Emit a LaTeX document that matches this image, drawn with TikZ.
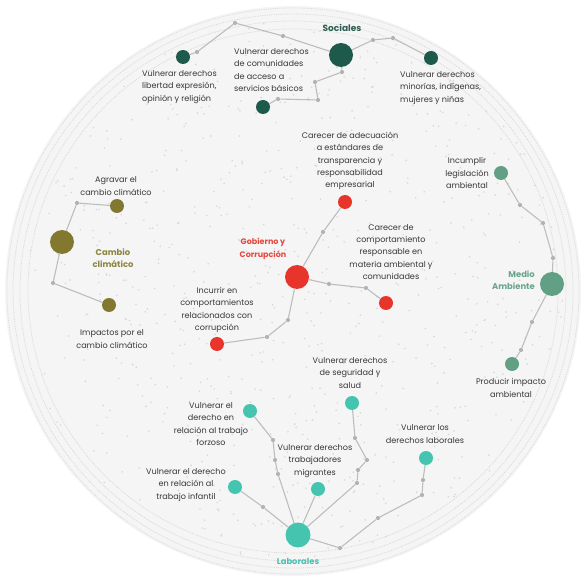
\documentclass[tikz,border=0pt]{standalone}
\usepackage{fontspec}
\setmainfont{Poppins}
\usetikzlibrary{calc}
\definecolor{socc}{HTML}{1D5A4B}
\definecolor{socl}{HTML}{2D5E52}
\definecolor{climc}{HTML}{83782F}
\definecolor{climl}{HTML}{8C8440}
\definecolor{gobc}{HTML}{E8352B}
\definecolor{gobl}{HTML}{E4473D}
\definecolor{ambc}{HTML}{62A085}
\definecolor{ambl}{HTML}{6AA58C}
\definecolor{labc}{HTML}{45C4B0}
\definecolor{labl}{HTML}{4BBFB0}
\definecolor{linec}{HTML}{BDBDBD}
\definecolor{dotc}{HTML}{B3B3B3}
\definecolor{txtc}{HTML}{383838}
\definecolor{bgc}{HTML}{F5F5F5}
\definecolor{ringc}{HTML}{D8D8D8}
\tikzset{
  hub/.style={circle, minimum size=24pt, inner sep=0pt, fill=#1},
  leaf/.style={circle, minimum size=14pt, inner sep=0pt, fill=#1},
  wp/.style={circle, minimum size=4.2pt, inner sep=0pt, fill=dotc},
  link/.style={draw=linec, line width=1.1pt},
  lbl/.style={font=\fontsize{8.1}{12.3}\selectfont, text=txtc, align=center, inner sep=0pt},
  lbll/.style={lbl, align=left},
  head/.style={font=\fontsize{8.4}{12.5}\selectfont\bfseries, text=#1, align=center, inner sep=0pt},
}
\begin{document}
\begin{tikzpicture}[x=1pt,y=-1pt]
\useasboundingbox (0,0) rectangle (584,577);

% backdrop sphere
\fill[bgc] (293,291) ellipse [x radius=288, y radius=285];
\foreach \r in {286,280,273,265}
  \draw[ringc, densely dotted, line width=0.8pt] (293,291) ellipse [x radius=\r, y radius=\r-3];
\pgfmathsetseed{11}
\foreach \i in {1,...,700} {
  \pgfmathsetmacro{\ang}{rnd*360}
  \pgfmathsetmacro{\rad}{sqrt(rnd)*270}
  \fill[ringc] ($(293,291)+(\ang:\rad)$) circle (0.9pt);
}

% ---------- Sociales ----------
\node[hub=socc] (sh) at (341,55) {};
\node[leaf=socc] (s1) at (183,57) {};
\node[leaf=socc] (s2) at (431,58) {};
\node[leaf=socc] (s3) at (263,107) {};
\node[wp] (sw1) at (197,52) {};
\node[wp] (sw2) at (235,23) {};
\node[wp] (sw3) at (283,36) {};
\node[wp] (sw4) at (373,40) {};
\node[wp] (sw5) at (393,38) {};
\node[wp] (sw6) at (342,72) {};
\node[wp] (sw7) at (315,82) {};
\node[wp] (sw8) at (318,100) {};
\node[wp] (sw9) at (278,99) {};
\draw[link] (s1) -- (sw1) -- (sw2) -- (sw3) -- (sh);
\draw[link] (sh) -- (sw4) -- (sw5) -- (s2);
\draw[link] (sh) -- (sw6) -- (sw7) -- (sw8) -- (sw9) -- (s3);
\node[head=socl, font=\fontsize{9}{12.5}\selectfont\bfseries] (shl) at (342,28) {Sociales};
\node[lbll, anchor=west] (s1t) at (142,87) {Vulnerar derechos\\libertad expresión,\\opinión y religión};
\node[lbll, anchor=west] (s2t) at (400,88) {Vulnerar derechos\\minorías, indígenas,\\mujeres y niñas};
\node[lbll, anchor=west] (s3t) at (234,70) {Vulnerar derechos\\de comunidades\\de acceso a\\servicios básicos};

% ---------- Cambio climático ----------
\node[hub=climc] (ch) at (62,242) {};
\node[leaf=climc] (c1) at (117,206) {};
\node[leaf=climc] (c2) at (109,305) {};
\node[wp] (cw1) at (77,203) {};
\node[wp] (cw2) at (53,283) {};
\draw[link] (ch) -- (cw1) -- (c1);
\draw[link] (ch) -- (cw2) -- (c2);
\node[head=climl] (chl) at (113,258) {Cambio\\climático};
\node[lbl] (c1t) at (116,186) {Agravar el\\cambio climático};
\node[lbl] (c2t) at (112,339) {Impactos por el\\cambio climático};

% ---------- Gobierno y Corrupción ----------
\node[hub=gobc] (gh) at (297,277) {};
\node[leaf=gobc] (g1) at (345,202) {};
\node[leaf=gobc] (g2) at (386,303) {};
\node[leaf=gobc] (g3) at (217,344) {};
\node[wp] (gw1) at (323,232) {};
\node[wp] (gw2) at (329,284) {};
\node[wp] (gw3) at (366,288) {};
\node[wp] (gw4) at (288,320) {};
\node[wp] (gw5) at (267,337) {};
\draw[link] (gh) -- (gw1) -- (g1);
\draw[link] (gh) -- (gw2) -- (gw3) -- (g2);
\draw[link] (gh) -- (gw4) -- (gw5) -- (g3);
\node[head=gobl, font=\fontsize{8}{12.5}\selectfont\bfseries] (ghl) at (263,249) {Gobierno y\\Corrupción};
\node[lbl] (g1t) at (350,161) {Carecer de adecuación\\a estándares de\\transparencia y\\responsabilidad\\empresarial};
\node[lbl] (g2t) at (391,252) {Carecer de\\comportamiento\\responsable en\\materia ambiental y\\comunidades};
\node[lbl] (g3t) at (217,310) {Incurrir en\\comportamientos\\relacionados con\\corrupción};

% ---------- Medio Ambiente ----------
\node[hub=ambc] (mh) at (552,284) {};
\node[leaf=ambc] (m1) at (501,173) {};
\node[leaf=ambc] (m2) at (512,364) {};
\node[wp] (mw1) at (520,205) {};
\node[wp] (mw2) at (543,223) {};
\node[wp] (mw3) at (553,258) {};
\node[wp] (mw4) at (532,322) {};
\node[wp] (mw5) at (521,350) {};
\draw[link] (m1) -- (mw1) -- (mw2) -- (mw3) -- (mh);
\draw[link] (mh) -- (mw4) -- (mw5) -- (m2);
\node[head=ambl, align=right, anchor=east] (mhl) at (535,280) {Medio\\Ambiente};
\node[lbl] (m1t) at (467,173) {Incumplir\\legislación\\ambiental};
\node[lbl] (m2t) at (511,388) {Producir impacto\\ambiental};

% ---------- Laborales ----------
\node[hub=labc, minimum size=25pt] (lh) at (298,535) {};
\node[leaf=labc] (l1) at (250,411) {};
\node[leaf=labc] (l2) at (235,487) {};
\node[leaf=labc] (l3) at (318,489) {};
\node[leaf=labc] (l4) at (352,403) {};
\node[leaf=labc] (l5) at (426,458) {};
\node[wp] (lw1) at (273,440) {};
\node[wp] (lw2) at (275,460) {};
\node[wp] (lw3) at (278,474) {};
\node[wp] (lw4) at (263,507) {};
\node[wp] (lw5) at (355,438) {};
\node[wp] (lw6) at (367,460) {};
\node[wp] (lw7) at (358,470) {};
\node[wp] (lw8) at (357,483) {};
\node[wp] (lw9) at (423,480) {};
\node[wp] (lw10) at (422,495) {};
\node[wp] (lw11) at (378,518) {};
\node[wp] (lw12) at (340,548) {};
\draw[link] (l1) -- (lw1) -- (lw2) -- (lw3) -- (lh);
\draw[link] (l2) -- (lw4) -- (lh);
\draw[link] (l3) -- (lh);
\draw[link] (l4) -- (lw5) -- (lw6) -- (lw7) -- (lw8) -- (lh);
\draw[link] (l5) -- (lw9) -- (lw10) -- (lw11) -- (lw12) -- (lh);
\node[head=labl] (lhl) at (298,561) {Laborales};
\node[lbl] (l1t) at (211,424) {Vulnerar el\\derecho en\\relación al trabajo\\forzoso};
\node[lbl] (l2t) at (186,485) {Vulnerar el derecho\\en relación al\\trabajo infantil};
\node[lbl] (l3t) at (315,461) {Vulnerar derechos\\trabajadores\\migrantes};
\node[lbl] (l4t) at (350,373) {Vulnerar derechos\\de seguridad y\\salud};
\node[lbl] (l5t) at (425,434) {Vulnerar los\\derechos laborales};
\end{tikzpicture}
\end{document}
